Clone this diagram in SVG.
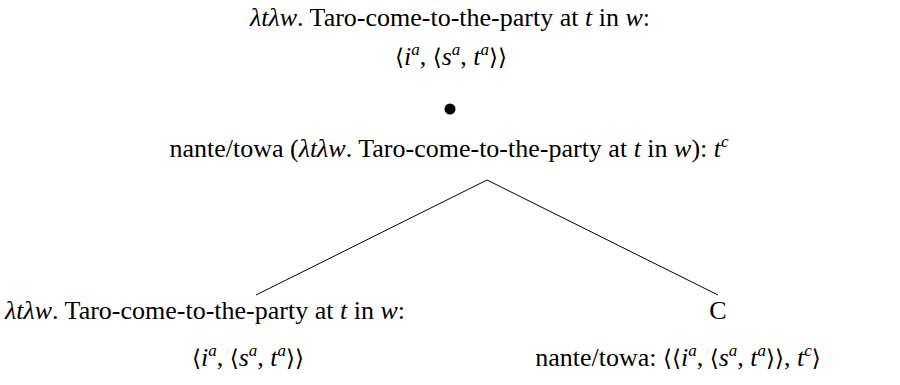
<svg xmlns="http://www.w3.org/2000/svg" width="900" height="385" viewBox="0 0 900 385">
<style>
text{font-family:"Liberation Serif","Times New Roman",serif;font-size:26px;fill:#000}
.i{font-style:italic}
.sup{font-size:17px;font-style:italic}
.br{font-family:"DejaVu Serif","Liberation Serif",serif;font-size:23px}
.edge{stroke:#000;stroke-width:1;fill:none}
</style>
<rect width="900" height="385" fill="#fff"/>
<g id="root">
<text x="450" y="26" text-anchor="middle"><tspan class="i">λtλw</tspan>. Taro-come-to-the-party at <tspan class="i">t</tspan> in <tspan class="i">w</tspan>:</text>
<text x="451" y="65" text-anchor="middle"><tspan class="br">⟨</tspan><tspan class="i">i</tspan><tspan class="sup" dy="-10">a</tspan><tspan dy="10">, </tspan><tspan class="br">⟨</tspan><tspan class="i">s</tspan><tspan class="sup" dy="-10">a</tspan><tspan dy="10">, </tspan><tspan class="i">t</tspan><tspan class="sup" dy="-10">a</tspan><tspan class="br" dy="10">⟩⟩</tspan></text>
<circle cx="450" cy="109" r="5.5" fill="#000"/>
<text x="449" y="157" text-anchor="middle">nante/towa (<tspan class="i">λtλw</tspan>. Taro-come-to-the-party at <tspan class="i">t</tspan> in <tspan class="i">w</tspan>): <tspan class="i">t</tspan><tspan class="sup" dy="-10">c</tspan></text>
</g>
<g id="connectors">
<line class="edge" x1="487" y1="180" x2="256" y2="295"/>
<line class="edge" x1="487" y1="180" x2="718" y2="295"/>
</g>
<g id="left">
<text x="205" y="319" text-anchor="middle"><tspan class="i">λtλw</tspan>. Taro-come-to-the-party at <tspan class="i">t</tspan> in <tspan class="i">w</tspan>:</text>
<text x="248" y="366" text-anchor="middle"><tspan class="br">⟨</tspan><tspan class="i">i</tspan><tspan class="sup" dy="-10">a</tspan><tspan dy="10">, </tspan><tspan class="br">⟨</tspan><tspan class="i">s</tspan><tspan class="sup" dy="-10">a</tspan><tspan dy="10">, </tspan><tspan class="i">t</tspan><tspan class="sup" dy="-10">a</tspan><tspan class="br" dy="10">⟩⟩</tspan></text>
</g>
<g id="right">
<text x="718" y="319" text-anchor="middle">C</text>
<text x="678" y="366" text-anchor="middle">nante/towa: <tspan class="br">⟨⟨</tspan><tspan class="i">i</tspan><tspan class="sup" dy="-10">a</tspan><tspan dy="10">, </tspan><tspan class="br">⟨</tspan><tspan class="i">s</tspan><tspan class="sup" dy="-10">a</tspan><tspan dy="10">, </tspan><tspan class="i">t</tspan><tspan class="sup" dy="-10">a</tspan><tspan class="br" dy="10">⟩⟩</tspan>, <tspan class="i">t</tspan><tspan class="sup" dy="-10">c</tspan><tspan class="br" dy="10">⟩</tspan></text>
</g>
</svg>
